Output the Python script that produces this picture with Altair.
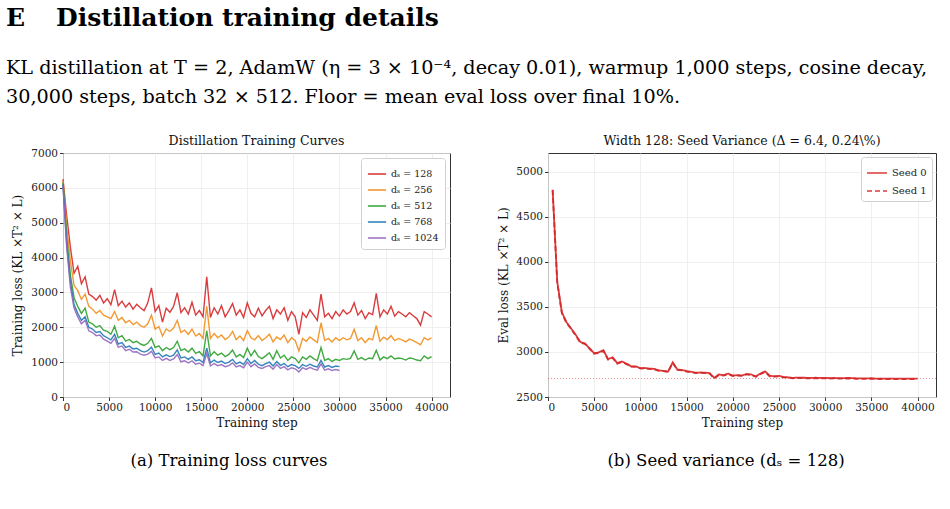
import altair as alt
import pandas as pd

# ---------------- page text ----------------
heading_num = "E"
heading_text = "Distillation training details"
para_line1 = "KL distillation at T = 2, AdamW (η = 3 × 10⁻⁴, decay 0.01), warmup 1,000 steps, cosine decay,"
para_line2 = "30,000 steps, batch 32 × 512. Floor = mean eval loss over final 10%."
caption_a = "(a) Training loss curves"
caption_b = "(b) Seed variance (dₛ = 128)"
title_a = "Distillation Training Curves"
title_b = "Width 128: Seed Variance (Δ = 6.4, 0.24\\%)"

# ---------------- panel (a) data ----------------
series_names = ["128", "256", "512", "768", "1024"]
series_colors = ["#d62728", "#f28e1c", "#2ca02c", "#1f77b4", "#9467bd"]
steps_a = list(range(0, 40001, 400))

loss_128 = [
    6250, 5200, 4300, 3550, 3750, 3250, 3450, 2950, 2880, 2780,
    2920, 2700, 2820, 2650, 3080, 2620, 2750, 2580, 2700, 2520,
    2660, 2560, 2480, 2700, 3130, 2450, 2620, 2150, 2550, 2430,
    2600, 2990, 2420, 2560, 2380, 2720, 2350, 2480, 2300, 3450,
    2280, 2560, 2380, 2620, 2300, 2480, 2680, 2350, 2500, 2280,
    2700, 2400, 2300, 2550, 2330, 2480, 2600, 2250, 2500, 2380,
    2560, 2200, 2450, 2300, 1800, 2420, 2280, 2500, 2350, 2200,
    2950, 2300, 2400, 2250, 2450, 2320, 2500, 2380, 2450, 2700,
    2350, 2480, 2250, 2420, 2360, 2970, 2300, 2500, 2380, 2600,
    2320, 2450, 2380, 2300, 2420, 2330, 2250, 2060, 2450, 2380,
    2300,
]
loss_256 = [
    6200, 4900, 3900, 3200, 3050, 2800, 2950, 2600, 2520, 2400,
    2480, 2350, 2300, 2250, 2450, 2200, 2280, 2130, 2200, 2080,
    2150, 2050, 2000, 2100, 2350, 1950, 2020, 1750, 1950, 1880,
    1980, 2200, 1850, 1920, 1800, 1950, 1750, 1820, 1680, 2600,
    1680, 1820, 1700, 1780, 1650, 1720, 1880, 1650, 1750, 1620,
    1900, 1700, 1640, 1760, 1620, 1700, 1800, 1580, 1720, 1650,
    1780, 1560, 1700, 1620, 1320, 1680, 1600, 1720, 1640, 1560,
    2130, 1620, 1680, 1580, 1700, 1620, 1700, 1640, 1680, 1940,
    1620, 1700, 1560, 1680, 1640, 2050, 1600, 1720, 1650, 1760,
    1620, 1680, 1640, 1580, 1660, 1620, 1560, 1500, 1700, 1640,
    1700,
]
loss_512 = [
    6150, 4600, 3500, 2850, 2600, 2400, 2550, 2150, 2100, 2000,
    2050, 1920, 1880, 1800, 2030, 1700, 1760, 1600, 1650, 1560,
    1600, 1520, 1480, 1540, 1680, 1420, 1470, 1330, 1420, 1360,
    1420, 1600, 1330, 1380, 1290, 1400, 1250, 1300, 1180, 1900,
    1180, 1300, 1200, 1260, 1160, 1220, 1350, 1150, 1220, 1130,
    1400, 1180, 1340, 1160, 1100, 1180, 1270, 1080, 1330, 1120,
    1200, 1050, 1150, 1100, 980, 1150, 1080, 1180, 1100, 1040,
    1420, 1050, 1100, 1020, 1080, 1050, 1100, 1080, 1110, 1320,
    1080, 1130, 1060, 1120, 1100, 1340, 1060, 1150, 1100, 1180,
    1090, 1120, 1100, 1060, 1120, 1100, 1060, 1040, 1180, 1100,
    1160,
]
loss_768 = [
    6100, 4400, 3300, 2650, 2400, 2200, 2300, 2000, 1950, 1850,
    1880, 1760, 1700, 1640, 1800, 1520, 1560, 1420, 1460, 1380,
    1400, 1330, 1290, 1330, 1430, 1220, 1260, 1150, 1210, 1160,
    1200, 1350, 1120, 1150, 1080, 1150, 1040, 1070, 990, 1400,
    980, 1060, 990, 1030, 960, 1000, 1080, 950, 1000, 930,
    1100, 960, 1050, 940, 900, 960, 1000, 890, 1020, 910,
    960, 870, 930, 900, 820, 930, 880, 940, 890, 860,
    1050, 860, 900, 850, 890, 870,
]
loss_1024 = [
    6050, 4300, 3150, 2550, 2300, 2100, 2200, 1900, 1850, 1760,
    1780, 1660, 1600, 1540, 1680, 1430, 1460, 1330, 1370, 1290,
    1300, 1230, 1200, 1230, 1310, 1120, 1150, 1050, 1110, 1050,
    1090, 1220, 1010, 1040, 980, 1040, 940, 970, 900, 1250,
    890, 960, 900, 930, 870, 900, 980, 860, 900, 840,
    1000, 870, 950, 850, 820, 870, 900, 800, 930, 820,
    870, 780, 840, 810, 720, 840, 790, 850, 800, 770,
    950, 770, 810, 760, 790, 760,
]

# ---------------- panel (b) data ----------------
seed_names = ["Seed 0", "Seed 1"]
steps_b = list(range(500, 40001, 500))
eval_seed0 = [
    4800, 3780, 3440, 3330, 3260, 3190, 3110, 3095, 3040, 2985,
    2995, 3020, 2920, 2940, 2875, 2895, 2870, 2840, 2840, 2820,
    2822, 2815, 2812, 2795, 2790, 2782, 2885, 2805, 2800, 2788,
    2780, 2770, 2772, 2770, 2765, 2712, 2750, 2742, 2760, 2738,
    2742, 2740, 2755, 2750, 2728, 2760, 2785, 2735, 2730, 2734,
    2722, 2718, 2712, 2716, 2714, 2713, 2712, 2714, 2711, 2712,
    2710, 2711, 2709, 2710, 2711, 2710, 2706, 2707, 2706, 2708,
    2704, 2705, 2704, 2705, 2703, 2704, 2703, 2704, 2703, 2705,
]
eval_seed1 = [
    4795, 3770, 3430, 3322, 3255, 3182, 3102, 3088, 3035, 2980,
    2990, 3012, 2915, 2934, 2870, 2890, 2864, 2836, 2835, 2816,
    2818, 2810, 2806, 2790, 2786, 2778, 2878, 2800, 2795, 2782,
    2775, 2766, 2768, 2764, 2760, 2708, 2744, 2738, 2754, 2733,
    2737, 2734, 2750, 2744, 2724, 2754, 2778, 2730, 2725, 2728,
    2717, 2713, 2708, 2711, 2709, 2708, 2707, 2709, 2706, 2707,
    2705, 2706, 2704, 2705, 2706, 2705, 2701, 2702, 2701, 2703,
    2699, 2700, 2699, 2700, 2698, 2699, 2698, 2699, 2698, 2700,
]
floor_value = 2705

# ---------------- tables ----------------
rows = []
for name, vals in zip(series_names, [loss_128, loss_256, loss_512, loss_768, loss_1024]):
    for i, v in enumerate(vals):
        rows.append({"step": steps_a[i], "loss": v, "series": name, "order": i})
df_a = pd.DataFrame(rows)

rows_b = []
for name, vals in zip(seed_names, [eval_seed0, eval_seed1]):
    for i, v in enumerate(vals):
        rows_b.append({"step": steps_b[i], "loss": v, "seed": name})
df_b = pd.DataFrame(rows_b)

SERIF = "DejaVu Serif"
W_A, W_B, H = 387, 388, 244


def text_layer(s, x, y, size, weight="normal", align="left", color="#000000"):
    return alt.Chart(pd.DataFrame({"t": [s]})).mark_text(
        align=align, baseline="middle", font=SERIF, fontSize=size,
        fontWeight=weight, color=color
    ).encode(x=alt.value(x), y=alt.value(y), text="t:N")


x_axis = alt.Axis(values=[0, 5000, 10000, 15000, 20000, 25000, 30000, 35000, 40000],
                  format="d", title="Training step")
x_scale = alt.Scale(domain=[0, 42000], nice=False)
yb_scale = alt.Scale(domain=[2500, 5207], nice=False, zero=False)

lines_a = alt.Chart(df_a).mark_line(strokeWidth=1.4, opacity=0.9).encode(
    x=alt.X("step:Q", scale=x_scale, axis=x_axis),
    y=alt.Y("loss:Q", scale=alt.Scale(domain=[0, 7000], nice=False),
            axis=alt.Axis(values=[0, 1000, 2000, 3000, 4000, 5000, 6000, 7000],
                          format="d", title="Training loss (KL ×T² × L)", titlePadding=6)),
    color=alt.Color("series:N",
                    scale=alt.Scale(domain=series_names, range=series_colors),
                    legend=alt.Legend(title=None, orient="top-right", offset=5,
                                      symbolType="stroke", symbolStrokeWidth=1.6,
                                      symbolSize=330, labelFontSize=9.5,
                                      labelExpr="'dₛ = ' + datum.label",
                                      fillColor="white", strokeColor="#d0d0d0",
                                      cornerRadius=3, padding=6, rowPadding=1)),
    order="order:Q",
)

left = alt.layer(
    lines_a,
    text_layer(title_a, W_A / 2, -12, 12.5, align="center", color="#111"),
    text_layer(heading_num, -57, -135, 25, "bold"),
    text_layer(heading_text, -7, -135, 25, "bold"),
    text_layer(para_line1, -57, -85, 19.2),
    text_layer(para_line2, -57, -56, 19.2),
    text_layer(caption_a, 166, 308, 16.5, align="center"),
).properties(width=W_A, height=H)

lines_b = alt.Chart(df_b).mark_line(strokeWidth=1.8, color="#d62728", opacity=0.9).encode(
    x=alt.X("step:Q", scale=x_scale, axis=x_axis),
    y=alt.Y("loss:Q", scale=yb_scale,
            axis=alt.Axis(values=[2500, 3000, 3500, 4000, 4500, 5000], format="d",
                          title="Eval loss (KL ×T² × L)", titlePadding=5)),
    strokeDash=alt.StrokeDash("seed:N",
                              scale=alt.Scale(domain=seed_names, range=[[1, 0], [5, 3]]),
                              legend=alt.Legend(title=None, orient="top-right", offset=4,
                                                symbolType="stroke", symbolStrokeWidth=1.6,
                                                symbolStrokeColor="#d62728",
                                                symbolSize=400, labelFontSize=10,
                                                fillColor="white", strokeColor="#d0d0d0",
                                                cornerRadius=3, padding=5, rowPadding=2)),
)

floor_rule = alt.Chart(pd.DataFrame({"floor": [floor_value]})).mark_rule(
    color="#d62728", opacity=0.5, strokeWidth=1, strokeDash=[1, 2]
).encode(y=alt.Y("floor:Q", scale=yb_scale))

right = alt.layer(
    floor_rule,
    lines_b,
    text_layer(title_b, W_B / 2, -12, 12.5, align="center", color="#111"),
    text_layer(caption_b, 178, 308, 16.5, align="center"),
).properties(width=W_B, height=H)

chart = alt.hconcat(left, right, spacing=98, bounds="flush").resolve_legend(
    color="independent", strokeDash="independent"
).resolve_scale(
    x="independent", y="independent"
).properties(
    padding={"left": 5, "top": 5, "right": 0, "bottom": 0},
    background="white",
).configure_view(
    stroke="#333333", strokeWidth=1
).configure_axis(
    labelFont=SERIF, labelFontSize=10.5, labelColor="#222",
    titleFont=SERIF, titleFontSize=12, titleFontWeight="normal", titleColor="#111",
    gridColor="#ebebeb", gridWidth=0.8, domain=False,
    tickColor="#333", tickSize=3.5, labelPadding=2, titlePadding=4,
).configure_legend(
    labelFont=SERIF, labelColor="#222",
)

chart.save("out.html", embed_options={"renderer": "svg", "actions": False})
